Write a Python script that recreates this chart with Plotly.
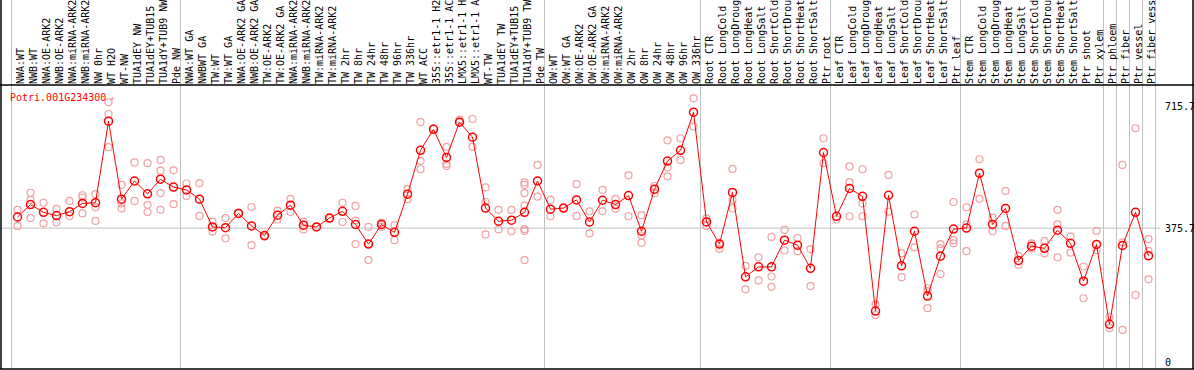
import plotly.graph_objects as go

labels = [
    "NWA:WT", "NWB:WT", "NWA:OE-ARK2", "NWB:OE-ARK2", "NWA:miRNA-ARK2", "NWB:miRNA-ARK2",
    "NW 0hr", "WT H2O", "WT-NW", "TUA1dEY NW", "TUA1dEY+TUB15 NW", "TUA1dY+TUB9 NW", "Pde NW",
    "NWA:WT GA", "NWBWT GA", "TW:WT", "TW:WT GA", "NWA:OE-ARK2 GA", "NWB:OE-ARK2 GA",
    "TW:OE-ARK2", "TW:OE-ARK2 GA", "NWA:miRNA-ARK2 GA", "NWB:miRNA-ARK2 GA", "TW:miRNA-ARK2",
    "TW:miRNA-ARK2 GA", "TW 2hr", "TW 8hr", "TW 24hr", "TW 48hr", "TW 96hr", "TW 336hr",
    "WT ACC", "35S::etr1-1 H2O", "35S::etr1-1 ACC", "LMX5::etr1-1 H2O", "LMX5::etr1-1 ACC",
    "WT-TW", "TUA1dEY TW", "TUA1dEY+TUB15 TW", "TUA1dY+TUB9 TW", "Pde TW",
    "OW:WT", "OW:WT GA", "OW:OE-ARK2", "OW:OE-ARK2 GA", "OW:miRNA-ARK2", "OW:miRNA-ARK2 GA",
    "OW 2hr", "OW 8hr", "OW 24hr", "OW 48hr", "OW 96hr", "OW 336hr",
    "Root CTR", "Root LongCold", "Root LongDrought", "Root LongHeat", "Root LongSalt",
    "Root ShortCold", "Root ShortDrought", "Root ShortHeat", "Root ShortSalt", "Ptr root",
    "Leaf CTR", "Leaf LongCold", "Leaf LongDrought", "Leaf LongHeat", "Leaf LongSalt",
    "Leaf ShortCold", "Leaf ShortDrought", "Leaf ShortHeat", "Leaf ShortSalt", "Ptr leaf",
    "Stem CTR", "Stem LongCold", "Stem LongDrought", "Stem LongHeat", "Stem LongSalt",
    "Stem ShortCold", "Stem ShortDrought", "Stem ShortHeat", "Stem ShortSalt", "Ptr shoot",
    "Ptr xylem", "Ptr phloem", "Ptr fiber", "Ptr vessel", "Ptr fiber vessel",
]

means = [
    407, 442, 420, 411, 422, 445, 447, 676, 457, 508, 472, 513, 491,
    483, 457, 379, 377, 417, 382, 355, 412, 440, 384, 379, 404, 423, 386, 331,
    386, 364, 471, 594, 653, 574, 673, 631, 432, 395, 398, 420, 508,
    429, 432, 455, 393, 454, 442, 467, 367, 485, 564, 594, 701,
    393, 331, 476, 239, 267, 267, 342, 328, 263, 588,
    409, 487, 465, 143, 468, 270, 367, 185, 297, 373,
    376, 530, 386, 431, 285, 325, 319, 370, 333, 227, 330,
    106, 327, 420, 298,
]

replicates = [
    [427, 382], [475, 455, 404], [447, 389], [430, 392], [452, 410], [468, 461, 417],
    [471, 434, 396], [729, 696, 603], [497, 445, 431], [560, 452], [558, 441, 421],
    [567, 537, 474, 427], [538, 443],
    [501, 466], [502, 410], [394, 366], [404, 347], [419], [435, 328], [352], [425, 400],
    [458, 421], [394, 372], [379], [404], [447, 393], [438, 397, 331], [379, 332, 286],
    [391, 379], [384, 342], [485, 457], [673, 564, 541], [656], [604, 556, 550],
    [680, 675], [682, 604], [490, 449, 358], [427, 372], [427, 367],
    [504, 497, 474, 439, 373, 368, 286], [553, 464],
    [455, 409], [432], [499, 410], [423, 361], [483, 423], [458, 430], [524, 409],
    [412, 355, 335], [494, 473], [622, 546, 521], [628, 567], [740, 661],
    [403, 382], [317, 333], [542, 455, 431], [270, 204], [294, 229], [351, 240, 211],
    [371, 313], [348, 311], [317, 213], [628, 558],
    [400], [549, 505, 409], [541, 445, 409], [162, 132], [525, 422], [305, 238],
    [414, 322], [207, 199, 151], [331, 319, 247], [449, 342, 333],
    [434, 386, 311], [569, 458], [405, 367], [480, 382], [298, 273], [333, 318],
    [340, 305], [427, 386, 294], [352, 307], [268, 179], [368, 314],
    [127, 95], [553, 336, 90], [656, 188], [345, 312, 232],
]

group_bounds = [-0.5, 12.5, 40.5, 52.5, 62.5, 72.5, 83.5, 84.5, 85.5, 86.5, 87.5]
ytick_vals = [715.7, 375.7, 0]
ytick_text = ["715.7", "375.7", "0"]
gene = "Potri.001G234300"

# ---- layout geometry ----
W, H = 1194, 370
TOP, BOT = 85, 369
X0, STEP = 17.5, 13.0
xmin, xmax = -X0 / STEP, (W - X0) / STEP
ymin, ymax = -19.6, 777.4
PH = BOT - TOP
FONT = "DejaVu Sans Mono"


def ypaper(py):
    return (BOT - py) / PH


xs = list(range(len(labels)))
rx, ry = [], []
for i, vals in enumerate(replicates):
    for v in vals:
        rx.append(i)
        ry.append(v)

fig = go.Figure()
fig.add_trace(go.Scatter(
    x=rx, y=ry, mode="markers",
    marker=dict(symbol="circle-open", size=7, color="#f0a0a0", line=dict(width=1.2, color="#f0a0a0")),
    hoverinfo="skip", showlegend=False,
))
fig.add_trace(go.Scatter(
    x=xs, y=means, mode="lines+markers",
    line=dict(color="#ff0000", width=1),
    marker=dict(symbol="circle-open", size=8, color="#ff0000", line=dict(width=1.5, color="#ff0000")),
    showlegend=False,
))

shapes = []
for b in group_bounds:
    px = round(X0 + STEP * b) + 0.5
    shapes.append(dict(type="line", xref="paper", yref="paper",
                       x0=px / W, x1=px / W, y0=0, y1=BOT / PH,
                       line=dict(color="#c0c0c0", width=1), layer="below"))
shapes.append(dict(type="line", xref="paper", yref="y", x0=0, x1=1160 / W,
                   y0=375.7, y1=375.7, line=dict(color="#c0c0c0", width=1), layer="below"))
for py in (TOP, BOT):
    shapes.append(dict(type="line", xref="paper", yref="paper", x0=0, x1=1,
                       y0=ypaper(py), y1=ypaper(py), line=dict(color="black", width=1.5)))
for px in (1.0, 1193.0):
    shapes.append(dict(type="line", xref="paper", yref="paper", x0=px / W, x1=px / W,
                       y0=0, y1=BOT / PH, line=dict(color="black", width=1.5)))

annotations = []
for v, t in zip(ytick_vals, ytick_text):
    annotations.append(dict(x=1163 / W, xref="paper", y=v, yref="y", text=t,
                            xanchor="left", yanchor="middle", showarrow=False,
                            font=dict(family=FONT, size=10, color="black")))
annotations.append(dict(x=8 / W, xref="paper", y=ypaper(97), yref="paper", text=gene,
                        xanchor="left", yanchor="middle", showarrow=False,
                        font=dict(family=FONT, size=10, color="#ff0000")))
annotations.append(dict(x=108 / W, xref="paper", y=ypaper(98), yref="paper", text="+",
                        xanchor="left", yanchor="middle", showarrow=False,
                        font=dict(family=FONT, size=8, color="#f0a0a0")))

fig.update_layout(
    width=W, height=H,
    margin=dict(l=0, r=0, t=TOP, b=H - BOT, pad=0),
    paper_bgcolor="white", plot_bgcolor="white",
    shapes=shapes, annotations=annotations,
    xaxis=dict(side="top", range=[xmin, xmax], tickmode="array", tickvals=xs, ticktext=labels,
               tickangle=-90, tickfont=dict(family=FONT, size=10, color="black"),
               ticklabelshift=3,
               showgrid=False, zeroline=False, showline=False, ticks="", automargin=False,
               fixedrange=True),
    yaxis=dict(range=[ymin, ymax], showticklabels=False, showgrid=False, zeroline=False,
               showline=False, ticks="", automargin=False, fixedrange=True),
    showlegend=False,
)

fig.write_html("out.html", config={"displayModeBar": False},
               post_script="document.body.style.margin='0';document.body.style.overflow='hidden';")
